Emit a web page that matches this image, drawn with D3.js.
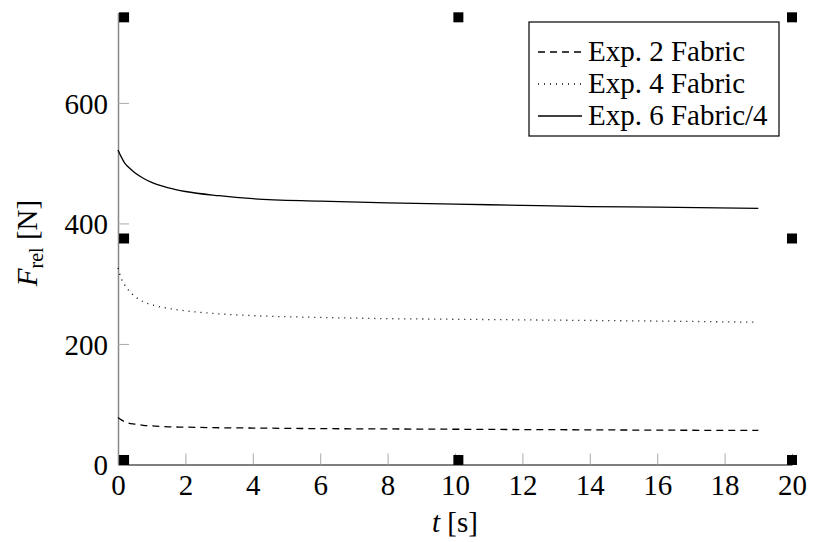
<!DOCTYPE html>
<html>
<head>
<meta charset="utf-8">
<script src="https://cdn.jsdelivr.net/npm/d3@7/dist/d3.min.js"></script>
<style>
  body { margin: 0; background: #fff; }
  svg text { font-family: "Liberation Serif", "Times New Roman", "DejaVu Serif", serif; }
</style>
</head>
<body>
<svg id="chart"></svg>
<script>
// time points [s]
var times = [0, 0.1, 0.2, 0.3, 0.5, 0.75, 1, 1.5, 2, 3, 4, 6, 8, 10, 12, 14, 16, 19];
// relaxation force [N]
var exp2 = [78, 74, 71, 69, 67, 65, 64, 62.5, 62, 61, 60.5, 59.5, 59, 58.5, 58, 57.5, 57, 56.5];
var exp4 = [326, 308, 298, 290, 279, 270, 265, 259, 255, 250, 247, 244, 242, 241, 240, 239, 238, 236];
var exp6 = [522, 510, 500, 494, 484, 475, 468, 459, 453, 446, 441, 437, 434, 432, 430, 428, 427, 425];

var seriesNames = ["Exp. 2 Fabric", "Exp. 4 Fabric", "Exp. 6 Fabric/4"];
var xTicks = [0, 2, 4, 6, 8, 10, 12, 14, 16, 18, 20];
var yTicks = [0, 200, 400, 600];
// corner markers
var markX = [0.18, 10.1, 20];
var markY = [7.5, 375, 742];

var W = 814, H = 542;
var serif = '"Liberation Serif", "Times New Roman", serif';
var margin = { top: 12.5, right: 22, bottom: 77.5, left: 118 },
  width = W - margin.left - margin.right,
  height = H - margin.top - margin.bottom;

var x = d3.scaleLinear().domain([0, 20]).range([0, width]);
var y = d3.scaleLinear().domain([0, 750]).range([height, 0]);

var svg = d3.select("#chart")
    .attr("width", W)
    .attr("height", H)
  .append("g")
    .attr("transform", "translate(" + margin.left + "," + margin.top + ")");

var xAxis = d3.axisBottom(x).tickValues(xTicks).tickSizeInner(-11).tickSizeOuter(0).tickPadding(10);
var yAxis = d3.axisLeft(y).tickValues(yTicks).tickSizeInner(-11).tickSizeOuter(0).tickPadding(10);

var gx = svg.append("g")
    .attr("class", "x axis")
    .attr("transform", "translate(0," + height + ")")
    .call(xAxis)
    .attr("font-family", serif)
    .attr("font-size", 29);
gx.select(".domain").attr("stroke", "#000").attr("stroke-width", 1.2);
gx.selectAll(".tick line").attr("stroke", "#aaa");
gx.selectAll(".tick text").attr("fill", "#000");

var gy = svg.append("g")
    .attr("class", "y axis")
    .call(yAxis)
    .attr("font-family", serif)
    .attr("font-size", 29);
gy.select(".domain").attr("stroke", "#888").attr("stroke-width", 1.5);
gy.selectAll(".tick line").attr("stroke", "#aaa");
gy.selectAll(".tick text").attr("fill", "#000").attr("dy", "0.35em");

var line = d3.line()
  .x(function(d) { return x(d[0]); })
  .y(function(d) { return y(d[1]); })
  .curve(d3.curveMonotoneX);

var series = [
  { name: seriesNames[0], values: exp2, dash: "7,5" },
  { name: seriesNames[1], values: exp4, dash: "1,5" },
  { name: seriesNames[2], values: exp6, dash: null }
];

series.forEach(function(s) {
  svg.append("path")
    .datum(times.map(function(t, i) { return [t, s.values[i]]; }))
    .attr("fill", "none")
    .attr("stroke", "#000")
    .attr("stroke-width", 1.3)
    .attr("stroke-dasharray", s.dash)
    .attr("d", line);
});

// square markers
var marks = [];
markX.forEach(function(mx, i) {
  markY.forEach(function(my, j) {
    if (i === 1 && j === 1) return;
    marks.push([mx, my]);
  });
});
svg.append("g").selectAll("rect")
    .data(marks)
  .enter().append("rect")
    .attr("x", function(d) { return x(d[0]) - 5; })
    .attr("y", function(d) { return y(d[1]) - 5; })
    .attr("width", 10)
    .attr("height", 10)
    .attr("fill", "#000");

// legend
var legend = svg.append("g")
    .attr("transform", "translate(" + (529 - margin.left) + "," + (22 - margin.top) + ")");
legend.append("rect")
    .attr("width", 250)
    .attr("height", 114)
    .attr("fill", "#fff")
    .attr("stroke", "#000")
    .attr("stroke-width", 1.2);
series.forEach(function(s, i) {
  var base = 39 + i * 32;
  legend.append("line")
    .attr("x1", 9).attr("x2", 53)
    .attr("y1", base - 9).attr("y2", base - 9)
    .attr("stroke", "#000")
    .attr("stroke-width", 1.3)
    .attr("stroke-dasharray", s.dash);
  legend.append("text")
    .attr("x", 59)
    .attr("y", base)
    .attr("font-family", serif)
    .attr("font-size", 29)
    .text(s.name);
});

// axis titles
var xt = svg.append("text")
    .attr("x", 455 - margin.left)
    .attr("y", 532 - margin.top)
    .attr("text-anchor", "middle")
    .attr("font-family", serif)
    .attr("font-size", 29);
xt.append("tspan").attr("font-style", "italic").text("t");
xt.append("tspan").text(" [s]");

var yt = svg.append("text")
    .attr("transform", "translate(" + (37 - margin.left) + "," + (243 - margin.top) + ") rotate(-90)")
    .attr("text-anchor", "middle")
    .attr("font-family", serif)
    .attr("font-size", 29);
yt.append("tspan").attr("font-style", "italic").text("F");
yt.append("tspan").attr("font-size", 20).attr("dy", 6).text("rel");
yt.append("tspan").attr("dy", -6).text(" [N]");
</script>
</body>
</html>
